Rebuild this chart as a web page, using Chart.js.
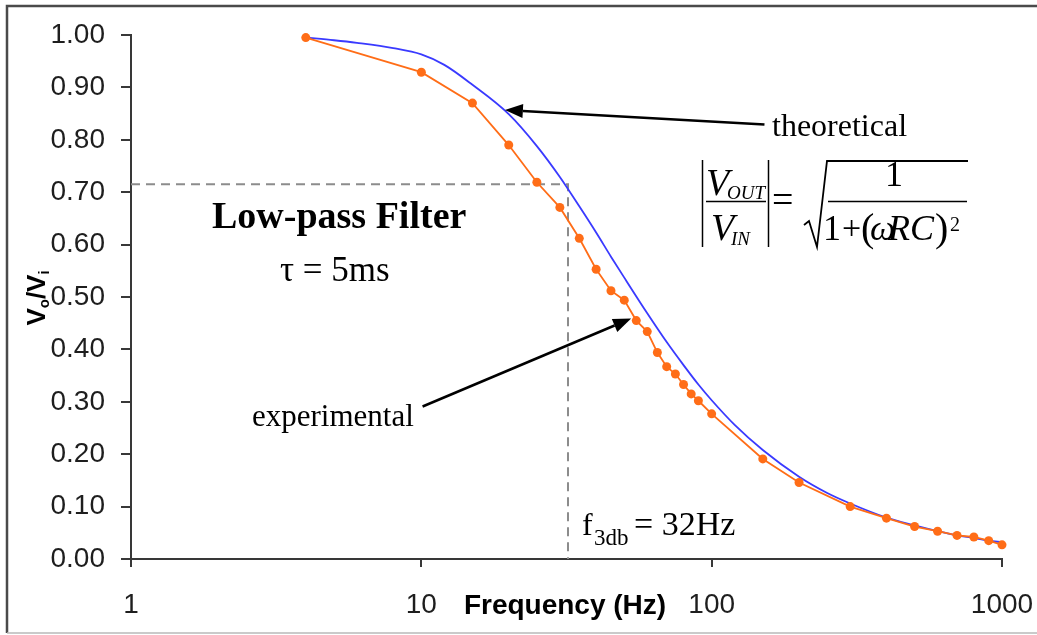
<!DOCTYPE html>
<html>
<head>
<meta charset="utf-8">
<title>Low-pass Filter</title>
<script src="https://cdn.jsdelivr.net/npm/chart.js@4.4.1/dist/chart.umd.min.js"></script>
<style>
  html, body { margin: 0; padding: 0; background: #fff; }
  canvas { display: block; }
</style>
</head>
<body>
<canvas id="filterChart" width="1037" height="635"></canvas>
<script>
// measured response (Hz, Vo/Vi)
var measuredFreq = [4, 10, 15, 20, 25, 30, 35, 40, 45, 50, 55, 60, 65, 70, 75, 80, 85, 90, 100, 150, 200, 300, 400, 500, 600, 700, 800, 900, 1000];
var measuredGain = [0.995, 0.929, 0.870, 0.790, 0.719, 0.671, 0.612, 0.553, 0.512, 0.494, 0.455, 0.434, 0.394, 0.367, 0.353, 0.333, 0.315, 0.302, 0.277, 0.191, 0.146, 0.100, 0.078, 0.062, 0.053, 0.045, 0.042, 0.035, 0.027];

// theoretical curve, tau = 5 ms
var theoryFreq = [4, 5, 6, 8, 10, 12, 15, 20, 25, 30, 35, 40, 45, 50, 60, 70, 80, 90, 100, 120, 150, 200, 250, 300, 400, 500, 600, 700, 800, 900, 1000];
var theoryGain = [0.995, 0.990, 0.985, 0.975, 0.963, 0.943, 0.905, 0.849, 0.788, 0.729, 0.673, 0.623, 0.577, 0.537, 0.469, 0.414, 0.370, 0.333, 0.303, 0.256, 0.208, 0.157, 0.126, 0.106, 0.079, 0.064, 0.053, 0.045, 0.040, 0.035, 0.032];

var xTicks = [1, 10, 100, 1000];
var yTicks = [0, 0.1, 0.2, 0.3, 0.4, 0.5, 0.6, 0.7, 0.8, 0.9, 1.0];

// -3 dB point
var cutoffFreq = 32;
var cutoffGain = 0.715;

var axisColor = "#383838";
var labelColor = "#1e1e1e";
var serif = '"Liberation Serif", "Times New Roman", serif';
var sans = '"Liberation Sans", Arial, sans-serif';

function toPoints(xs, ys) {
  return xs.map(function (x, i) {
    return { x: x, y: ys[i] };
  });
}

function txt(ctx, str, x, y, font, align) {
  ctx.font = font;
  ctx.textAlign = align || "left";
  ctx.fillText(str, x, y);
}

function line(ctx, pts, width) {
  ctx.lineWidth = width;
  ctx.beginPath();
  ctx.moveTo(pts[0][0], pts[0][1]);
  for (var i = 1; i < pts.length; i++) ctx.lineTo(pts[i][0], pts[i][1]);
  ctx.stroke();
}

function arrow(ctx, x1, y1, x2, y2) {
  var a = Math.atan2(y2 - y1, x2 - x1);
  var len = 18, half = 7;
  var bx = x2 - len * Math.cos(a), by = y2 - len * Math.sin(a);
  line(ctx, [[x1, y1], [bx, by]], 2.5);
  ctx.beginPath();
  ctx.moveTo(x2, y2);
  ctx.lineTo(bx + half * Math.sin(a), by - half * Math.cos(a));
  ctx.lineTo(bx - half * Math.sin(a), by + half * Math.cos(a));
  ctx.closePath();
  ctx.fill();
}

// white background + frame around the figure
var framePlugin = {
  id: "frame",
  beforeDraw: function (chart) {
    var ctx = chart.ctx;
    ctx.save();
    ctx.fillStyle = "#fff";
    ctx.fillRect(0, 0, chart.width, chart.height);
    ctx.strokeStyle = "#4a4a4a";
    line(ctx, [[7, 633], [7, 6], [1037, 6]], 2.5);
    ctx.strokeStyle = "#b8b8b8";
    line(ctx, [[7, 633], [1037, 633]], 1.5);
    ctx.restore();
  }
};

// cutoff guide lines, under the data
var cutoffPlugin = {
  id: "cutoff",
  beforeDatasetsDraw: function (chart) {
    var ctx = chart.ctx, xs = chart.scales.x, ys = chart.scales.y;
    var px = xs.getPixelForValue(cutoffFreq);
    var py = ys.getPixelForValue(cutoffGain);
    ctx.save();
    ctx.strokeStyle = "#8c8c8c";
    ctx.setLineDash([9, 6]);
    line(ctx, [[chart.chartArea.left, py], [px, py], [px, chart.chartArea.bottom]], 2);
    ctx.restore();
  }
};

// axis titles, labels, arrows and formula
var notesPlugin = {
  id: "notes",
  afterDatasetsDraw: function (chart) {
    var ctx = chart.ctx, xs = chart.scales.x, ys = chart.scales.y;
    ctx.save();
    ctx.fillStyle = "#000";
    ctx.strokeStyle = "#000";
    ctx.textBaseline = "alphabetic";

    // x title sits on the tick label row
    txt(ctx, "Frequency (Hz)", 565, 614, "bold 28px " + sans, "center");

    // y title, rotated: Vo/Vi
    ctx.save();
    ctx.translate(45, 298);
    ctx.rotate(-Math.PI / 2);
    var runs = [
      ["V", "bold 26px " + sans, 0],
      ["o", "bold 15px " + sans, 4],
      ["/", "bold 26px " + sans, 0],
      ["V", "bold 26px " + sans, 0],
      ["i", "bold 15px " + sans, 4]
    ];
    var total = 0;
    runs.forEach(function (r) { ctx.font = r[1]; total += ctx.measureText(r[0]).width; });
    var cx = -total / 2;
    runs.forEach(function (r) {
      ctx.font = r[1];
      ctx.textAlign = "left";
      ctx.fillText(r[0], cx, r[2]);
      cx += ctx.measureText(r[0]).width;
    });
    ctx.restore();

    txt(ctx, "Low-pass Filter", 212, 228, "bold 38px " + serif);
    txt(ctx, "\u03c4 = 5ms", 280, 281, "35px " + serif);
    txt(ctx, "theoretical", 772, 136, "32px " + serif);
    txt(ctx, "experimental", 252, 426, "31px " + serif);

    // f3db label
    txt(ctx, "f", 582, 535, "32px " + serif);
    txt(ctx, "3db", 594, 545, "23px " + serif);
    txt(ctx, "= 32Hz", 634, 535, "34px " + serif);

    // arrows to each curve
    arrow(ctx, xs.getPixelForValue(152), ys.getPixelForValue(0.829),
      xs.getPixelForValue(19.4), ys.getPixelForValue(0.857));
    arrow(ctx, xs.getPixelForValue(10.1), ys.getPixelForValue(0.291),
      xs.getPixelForValue(52.8), ys.getPixelForValue(0.459));

    // |Vout/Vin| = sqrt(1 / (1 + (wRC)^2))
    txt(ctx, "V", 706, 195, "italic 38px " + serif);
    txt(ctx, "OUT", 727, 199, "italic 19px " + serif);
    txt(ctx, "V", 711, 240, "italic 38px " + serif);
    txt(ctx, "IN", 731, 245, "italic 19px " + serif);
    line(ctx, [[706, 201.5], [766, 201.5]], 1.5);
    line(ctx, [[702.5, 160], [702.5, 247]], 1.5);
    line(ctx, [[768.5, 160], [768.5, 247]], 1.5);
    txt(ctx, "=", 772, 212, "38px " + serif);
    line(ctx, [[804, 225], [809, 221], [817, 247], [827, 161], [968, 161]], 1.8);
    txt(ctx, "1", 894, 186, "36px " + serif, "center");
    line(ctx, [[828, 201.5], [967, 201.5]], 1.5);
    txt(ctx, "1", 823, 240, "36px " + serif);
    txt(ctx, "+", 842, 239, "34px " + serif);
    txt(ctx, "(", 861, 241, "40px " + serif);
    txt(ctx, "\u03c9", 870, 240, "italic 36px " + serif);
    txt(ctx, "R", 888, 240, "italic 36px " + serif);
    txt(ctx, "C", 910, 240, "italic 36px " + serif);
    txt(ctx, ")", 935, 241, "40px " + serif);
    txt(ctx, "2", 950, 231, "20px " + serif);

    ctx.restore();
  }
};

var ctx = document.getElementById("filterChart").getContext("2d");

var filterChart = new Chart(ctx, {
  type: "line",
  data: {
    datasets: [
      {
        label: "experimental",
        data: toPoints(measuredFreq, measuredGain),
        borderColor: "#ff6d17",
        backgroundColor: "#ff6d17",
        borderWidth: 1.8,
        pointStyle: "circle",
        pointRadius: 4.5,
        pointBorderWidth: 0,
        tension: 0,
        clip: false
      },
      {
        label: "theoretical",
        data: toPoints(theoryFreq, theoryGain),
        borderColor: "#3a3aff",
        borderWidth: 1.8,
        pointRadius: 0,
        cubicInterpolationMode: "monotone",
        clip: false
      }
    ]
  },
  options: {
    responsive: false,
    animation: false,
    layout: { padding: { top: 35, right: 35, left: 0, bottom: 0 } },
    plugins: {
      legend: { display: false },
      tooltip: { enabled: false }
    },
    scales: {
      x: {
        type: "logarithmic",
        min: 1,
        max: 1000,
        afterBuildTicks: function (axis) {
          axis.ticks = xTicks.map(function (v) { return { value: v }; });
        },
        afterFit: function (axis) {
          axis.height = 76;
          axis.paddingLeft = 0;
          axis.paddingRight = 0;
        },
        ticks: {
          autoSkip: false,
          maxRotation: 0,
          padding: 21,
          color: labelColor,
          font: { family: sans, size: 28 },
          callback: function (v) { return String(v); }
        },
        grid: { drawOnChartArea: false, drawTicks: true, tickLength: 8, color: axisColor, lineWidth: 2 },
        border: { display: true, color: axisColor, width: 2 }
      },
      y: {
        min: 0,
        max: 1,
        afterBuildTicks: function (axis) {
          axis.ticks = yTicks.map(function (v) { return { value: v }; });
        },
        afterFit: function (axis) { axis.width = 131; },
        ticks: {
          padding: 16,
          color: labelColor,
          font: { family: sans, size: 28 },
          callback: function (v) { return Number(v).toFixed(2); }
        },
        grid: { drawOnChartArea: false, drawTicks: true, tickLength: 10, color: axisColor, lineWidth: 2 },
        border: { display: true, color: axisColor, width: 2 }
      }
    }
  },
  plugins: [framePlugin, cutoffPlugin, notesPlugin]
});
</script>
</body>
</html>
